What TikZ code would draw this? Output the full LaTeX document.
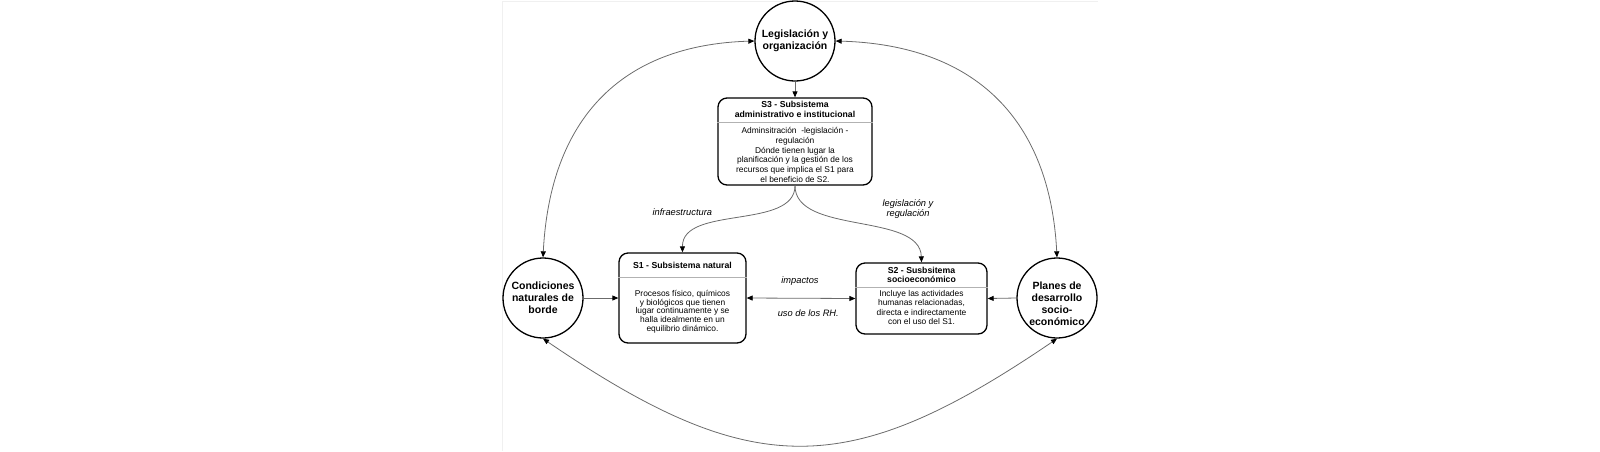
\documentclass[tikz,border=0pt]{standalone}
\usepackage{fontspec}
\setmainfont{Liberation Sans}
\usetikzlibrary{arrows.meta}
\begin{document}
\begin{tikzpicture}[x=1pt,y=-1pt,
  circ/.style={circle,draw=black,line width=1.3pt,minimum size=80pt,inner sep=0pt},
  sbox/.style={draw=black,line width=1.3pt,rounded corners=9pt,inner sep=0pt},
  circtxt/.style={align=center,inner sep=0pt,font=\bfseries\fontsize{10.5}{12}\selectfont},
  headtxt/.style={align=center,inner sep=0pt,font=\bfseries\fontsize{8.7}{9.6}\selectfont},
  bodytxt/.style={align=center,inner sep=0pt,font=\fontsize{8.4}{9.8}\selectfont},
  lbl/.style={align=center,inner sep=0pt,font=\itshape\fontsize{9.3}{10}\selectfont},
  divider/.style={draw=gray!60,line width=0.9pt},
  conn/.style={draw=black!58,line width=0.8pt,-{Triangle[length=6pt,width=5pt,color=black]}},
  dconn/.style={draw=black!58,line width=0.8pt,{Triangle[length=6pt,width=5pt,color=black]}-{Triangle[length=6pt,width=5pt,color=black]}}
]
\useasboundingbox (0,0) rectangle (1600,451);
\draw[gray!12,line width=0.6pt] (502,451) -- (502,1.3) -- (1098,1.3);

% circles
\node[circ] (leg) at (795,41) {};
\node[circtxt] (legt) at (795,41) {Legislación y\\organización};
\node[circ] (cnb) at (543,298) {};
\node[circtxt] (cnbt) at (543,298) {Condiciones\\naturales de\\borde};
\node[circ] (pds) at (1057,298) {};
\node[circtxt] (pdst) at (1057,303.5) {Planes de\\desarrollo\\socio-\\económico};

% boxes
\node[sbox,minimum width=154pt,minimum height=87pt] (s3) at (795,141.5) {};
\coordinate (d3) at (0,122);
\draw[divider] (s3.west |- d3) -- (s3.east |- d3);
\node[headtxt] (s3h) at (795,109.5) {S3 - Subsistema\\administrativo e institucional};
\node[bodytxt] (s3b) at (795,155) {Adminsitración\ \ -legislación -\\regulación\\Dónde tienen lugar la\\planificación y la gestión de los\\recursos que implica el S1 para\\el beneficio de S2.};

\node[sbox,minimum width=127pt,minimum height=90pt] (s1) at (682.5,298) {};
\coordinate (d1) at (0,277);
\draw[divider] (s1.west |- d1) -- (s1.east |- d1);
\node[headtxt] (s1h) at (682.5,265.7) {S1 - Subsistema natural};
\node[bodytxt,font=\fontsize{8.4}{8.7}\selectfont] (s1b) at (682.5,311.5) {Procesos físico, químicos\\y biológicos que tienen\\lugar continuamente y se\\halla idealmente en un\\equilibrio dinámico.};

\node[sbox,minimum width=131pt,minimum height=71pt] (s2) at (921.5,298.5) {};
\coordinate (d2) at (0,287);
\draw[divider] (s2.west |- d2) -- (s2.east |- d2);
\node[headtxt,font=\bfseries\fontsize{8.7}{8.8}\selectfont] (s2h) at (921.5,274.5) {S2 - Susbsitema\\socioeconómico};
\node[bodytxt,font=\fontsize{8.4}{9.2}\selectfont] (s2b) at (921.5,307.5) {Incluye las actividades\\humanas relacionadas,\\directa e indirectamente\\con el uso del S1.};

% labels
\node[lbl] (linf) at (682.3,212.3) {infraestructura};
\node[lbl] (lleg) at (908,209.5) {legislación y\\regulación};
\node[lbl] (limp) at (800,281) {impactos};
\node[lbl] (luso) at (808.3,313) {uso de los RH.};

% connectors
\draw[conn] (leg.south) -- (s3.north);
\draw[conn] (cnb.east) -- (s1.west);
\draw[conn] (pds.west) -- (s2.east);
\draw[dconn] (s1.east) -- (s2.west);
\draw[conn] (s3.south) .. controls (795,230) and (682,205) .. (s1.north);
\draw[conn] (s3.south) .. controls (795,235) and (920,212) .. (s2.north);
\draw[dconn] (cnb.north) .. controls (550,120) and (620,45) .. (leg.west);
\draw[dconn] (pds.north) .. controls (1050,120) and (976,45) .. (leg.east);
\draw[dconn] (cnb.south) .. controls (752,481) and (848,481) .. (pds.south);
\end{tikzpicture}
\end{document}
